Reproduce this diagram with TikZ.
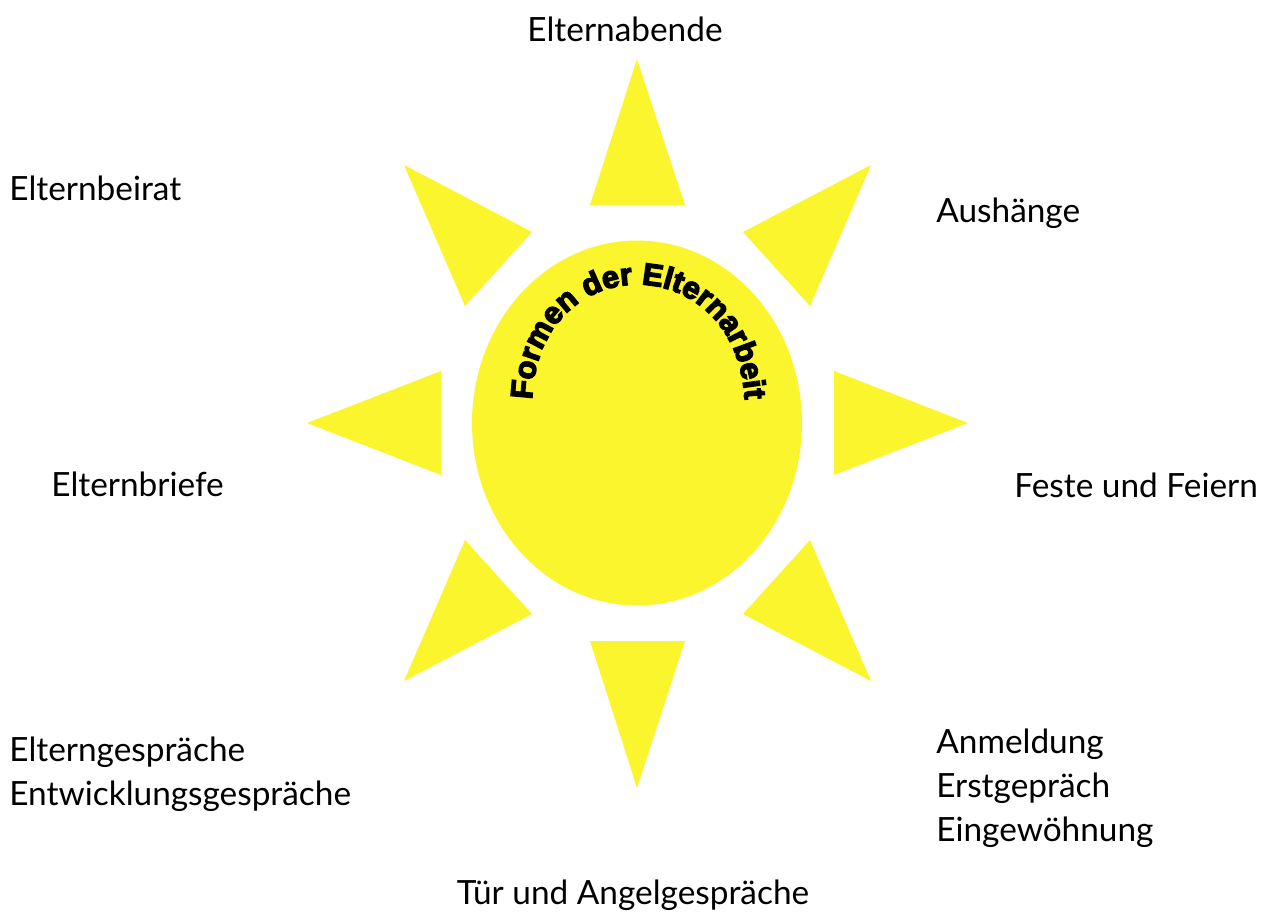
\documentclass[tikz,border=0pt]{standalone}
\usepackage{fontspec}
\setmainfont{Lato}
\newfontfamily\archfont[UprightFont=* Bold, FakeBold=4.5]{Liberation Sans}
\usepackage{xcolor}
\usetikzlibrary{shapes.geometric,decorations.text}
\definecolor{sunyellow}{HTML}{FBF52E}

\begin{document}
\begin{tikzpicture}[
    x=0.02cm, y=-0.02cm,
    font=\fontsize{19}{23}\selectfont,
    ray/.style={fill=sunyellow, draw=none},
    sunbody/.style={ellipse, fill=sunyellow, minimum width=6.6cm, minimum height=7.3cm, inner sep=0pt},
    label/.style={anchor=west, align=left, inner sep=0pt, text=black}
]
    \useasboundingbox (0,0) rectangle (1279,916);

    % Sun body
    \node (sun) at (637,423) [sunbody] {};

    % Rays, clockwise from the top
    \fill [ray] (637,59) -- (685,205) -- (590,205) -- cycle;
    \fill [ray] (871,165) -- (810,306) -- (743,232) -- cycle;
    \fill [ray] (968,423) -- (834,475) -- (834,371) -- cycle;
    \fill [ray] (871,681) -- (743,614) -- (810,540) -- cycle;
    \fill [ray] (637,788) -- (590,641) -- (685,641) -- cycle;
    \fill [ray] (404,681) -- (465,540) -- (532,614) -- cycle;
    \fill [ray] (307,423) -- (441,371) -- (441,475) -- cycle;
    \fill [ray] (404,165) -- (532,232) -- (465,306) -- cycle;

    % Arched title
    \path [decorate, decoration={text along path, text align=center,
        text={|\archfont\fontsize{17.5}{20}\selectfont|Formen der Elternarbeit}}]
        (532,406) .. controls (532,244) and (742,244) .. (745,406);

    % Labels
    \node (abende) at (625,29) [label, anchor=center] {Elternabende};
    \node (beirat) at (9,188) [label] {Elternbeirat};
    \node (aushang) at (936,213) [label] {Aushänge};
    \node (briefe) at (51,484) [label] {Elternbriefe};
    \node (feste) at (1014,485) [label] {Feste und Feiern};
    \node (gespraech) at (9,774) [label] {Elterngespräche\\[2pt]Entwicklungsgespräche};
    \node (anmeldung) at (936,788) [label] {Anmeldung\\[2pt]Erstgepräch\\[2pt]Eingewöhnung};
    \node (tuer) at (633,895) [label, anchor=center] {Tür und Angelgespräche};
\end{tikzpicture}
\end{document}
